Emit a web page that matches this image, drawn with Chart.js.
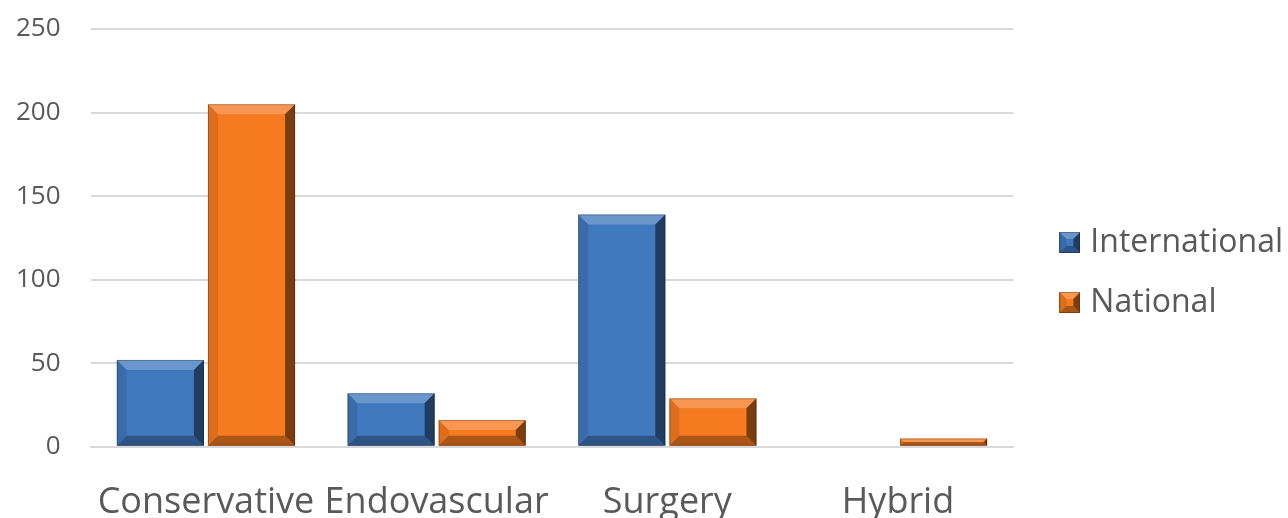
<!DOCTYPE html>
<html>
<head>
<meta charset="utf-8">
<script src="https://cdn.jsdelivr.net/npm/chart.js@4.4.1/dist/chart.umd.min.js"></script>
<style>
  html, body { margin: 0; padding: 0; background: #fff; overflow: hidden; }
  #wrap { width: 1288px; height: 524px; position: relative; }
</style>
</head>
<body>
<div id="wrap"><canvas id="treatChart"></canvas></div>
<script>
const categories = ['Conservative', 'Endovascular', 'Surgery', 'Hybrid'];
const international = [52, 32, 139, 0];
const national = [205, 16, 29, 5];
const yTicks = [0, 50, 100, 150, 200, 250];

const BLUE = '#4179BE';
const ORANGE = '#F57A20';
const LEGEND_GAP = 24; // extra room between plot and legend
const LEGEND_LIFT = 4;

// draws the beveled look over a rectangle
function bevel(ctx, left, top, right, bottom, b) {
  const w = right - left, h = bottom - top;
  b = Math.min(b, w / 2, h / 2);
  if (h < 1 || w < 1) return;
  function quad(pts, fill) {
    ctx.beginPath();
    ctx.moveTo(pts[0][0], pts[0][1]);
    for (let i = 1; i < pts.length; i++) ctx.lineTo(pts[i][0], pts[i][1]);
    ctx.closePath();
    ctx.fillStyle = fill;
    ctx.fill();
  }
  quad([[left, top], [right, top], [right - b, top + b], [left + b, top + b]], 'rgba(255,255,255,0.22)');
  quad([[left, top], [left + b, top + b], [left + b, bottom - b], [left, bottom]], 'rgba(0,0,0,0.1)');
  quad([[right, top], [right, bottom], [right - b, bottom - b], [right - b, top + b]], 'rgba(0,0,0,0.5)');
  quad([[left, bottom], [left + b, bottom - b], [right - b, bottom - b], [right, bottom]], 'rgba(0,0,0,0.3)');
  ctx.strokeStyle = 'rgba(0,0,0,0.25)';
  ctx.lineWidth = 1;
  ctx.strokeRect(left + 0.5, top + 0.5, w - 1, h - 1);
}

function legendIcon(color) {
  const c = document.createElement('canvas');
  c.width = 21; c.height = 21;
  const g = c.getContext('2d');
  g.fillStyle = color;
  g.fillRect(0, 0, 21, 21);
  bevel(g, 0, 0, 21, 21, 7);
  return c;
}

const bevelPlugin = {
  id: 'bevel',
  afterDatasetsDraw(chart) {
    const ctx = chart.ctx;
    ctx.save();
    chart.data.datasets.forEach((ds, i) => {
      chart.getDatasetMeta(i).data.forEach(bar => {
        const left = bar.x - bar.width / 2, right = bar.x + bar.width / 2;
        const top = Math.min(bar.y, bar.base), bottom = Math.max(bar.y, bar.base);
        bevel(ctx, left, top, right, bottom, 10);
      });
    });
    ctx.restore();
  }
};

// widen the legend box, then slide it back so the gap ends up before it
const legendGapPlugin = {
  id: 'legendGap',
  beforeLayout(chart) {
    const lg = chart.legend;
    if (lg && !lg._gapPatched) {
      const fit = lg.fit;
      lg.fit = function () { fit.call(this); this.width += LEGEND_GAP; };
      lg._gapPatched = true;
    }
  },
  afterLayout(chart) {
    const lg = chart.legend;
    if (lg) {
      lg.left += LEGEND_GAP; lg.right += LEGEND_GAP;
      lg.top -= LEGEND_LIFT; lg.bottom -= LEGEND_LIFT;
    }
  }
};

const icons = [legendIcon(BLUE), legendIcon(ORANGE)];

new Chart(document.getElementById('treatChart'), {
  type: 'bar',
  data: {
    labels: categories,
    datasets: [
      { label: 'International', data: international, backgroundColor: BLUE, pointStyle: icons[0] },
      { label: 'National', data: national, backgroundColor: ORANGE, pointStyle: icons[1] }
    ]
  },
  options: {
    responsive: true,
    maintainAspectRatio: false,
    animation: false,
    datasets: { bar: { categoryPercentage: 0.79, barPercentage: 0.956 } },
    layout: { padding: { top: 29, left: 16, right: -5, bottom: 0 } },
    scales: {
      x: {
        grid: { display: true, color: 'rgba(0,0,0,0)', drawTicks: true, tickLength: 34, tickColor: 'rgba(0,0,0,0)' },
        border: { display: true, color: '#d9d9d9', width: 2 },
        ticks: { color: '#595959', font: { family: 'Open Sans', size: 36 }, padding: 0, maxRotation: 0, autoSkip: false }
      },
      y: {
        min: 0, max: 250,
        afterBuildTicks: axis => { axis.ticks = yTicks.map(v => ({ value: v })); },
        grid: { color: '#d9d9d9', lineWidth: 2, drawTicks: true, tickLength: 30, tickColor: 'rgba(0,0,0,0)' },
        border: { display: false },
        ticks: { color: '#595959', font: { family: 'Open Sans', size: 26 }, padding: 0 }
      }
    },
    plugins: {
      legend: {
        position: 'right',
        labels: {
          usePointStyle: true,
          boxWidth: 9,
          boxHeight: 21,
          color: '#595959',
          font: { family: 'Open Sans', size: 32 },
          padding: 28
        }
      },
      tooltip: { enabled: false }
    }
  },
  plugins: [bevelPlugin, legendGapPlugin]
});
</script>
</body>
</html>
